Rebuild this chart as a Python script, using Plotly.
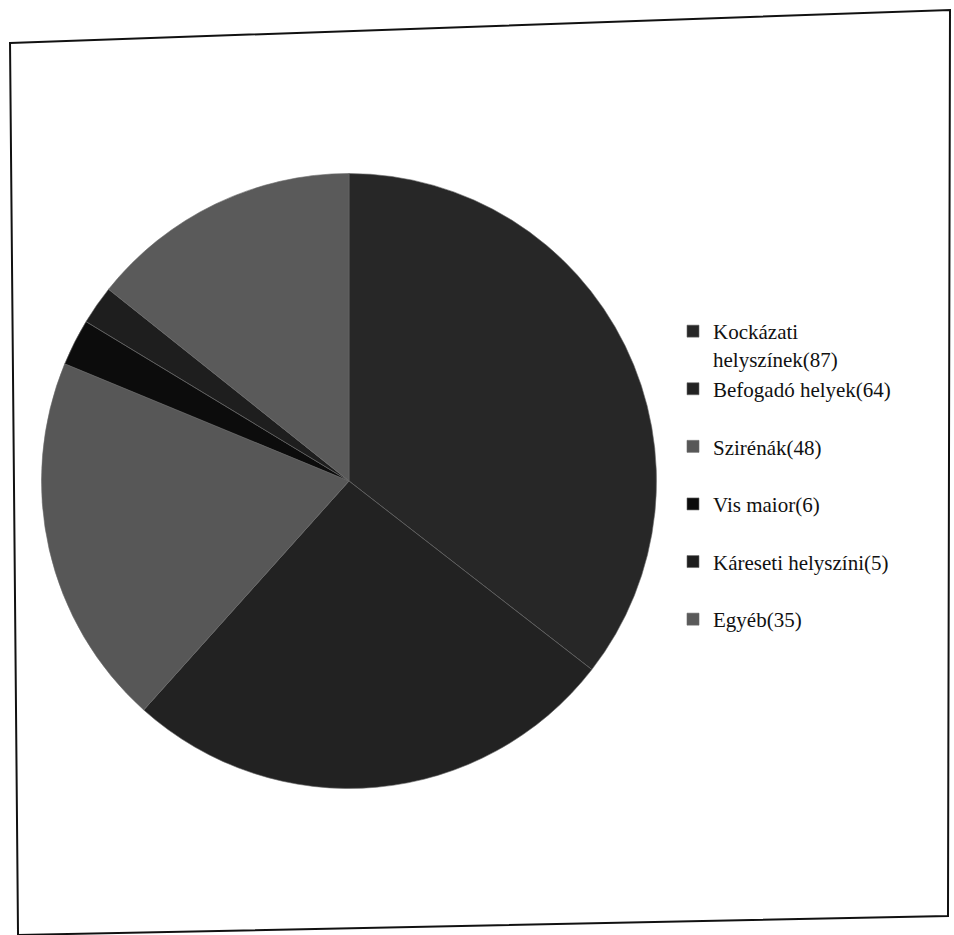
import plotly.graph_objects as go

labels = ["Kockázati<br>helyszínek(87)", "Befogadó helyek(64)<br>\u00a0", "Szirénák(48)<br>\u00a0",
          "Vis maior(6)<br>\u00a0", "Káreseti helyszíni(5)<br>\u00a0", "Egyéb(35)<br>\u00a0"]
values = [87, 64, 48, 6, 5, 35]
colors = ["#272727", "#222222", "#575757", "#0c0c0c", "#1e1e1e", "#5a5a5a"]

W, H = 954, 935


def px(x, y):
    return f"{x / W:.4f} {1 - y / H:.4f}"


fig = go.Figure(go.Pie(
    labels=labels,
    values=values,
    sort=False,
    direction="clockwise",
    rotation=0,
    textinfo="none",
    hoverinfo="label+value",
    marker=dict(colors=colors, line=dict(color="#6a6a6a", width=0.6)),
    domain=dict(x=[41.5 / W, 656.5 / W], y=[1 - 790 / H, 1 - 172 / H]),
))

frame = ("M " + px(10, 43) + " L " + px(950, 10) + " L " + px(948, 916)
         + " L " + px(18, 935) + " Z")
fig.add_shape(type="path", xref="paper", yref="paper", path=frame,
              line=dict(color="#111111", width=2), fillcolor="rgba(0,0,0,0)")

fig.update_layout(
    width=W, height=H,
    margin=dict(l=0, r=0, t=0, b=0),
    paper_bgcolor="white",
    plot_bgcolor="white",
    showlegend=True,
    legend=dict(
        x=673 / W, y=1 - 311 / H, xanchor="left", yanchor="top",
        font=dict(family="Liberation Serif, Times New Roman, serif", size=21, color="#111111"),
        valign="top",
        bgcolor="rgba(0,0,0,0)",
        itemclick=False,
    ),
)

fig.write_html("out.html", config={"displayModeBar": False},
               post_script="document.body.style.margin='0px';")
